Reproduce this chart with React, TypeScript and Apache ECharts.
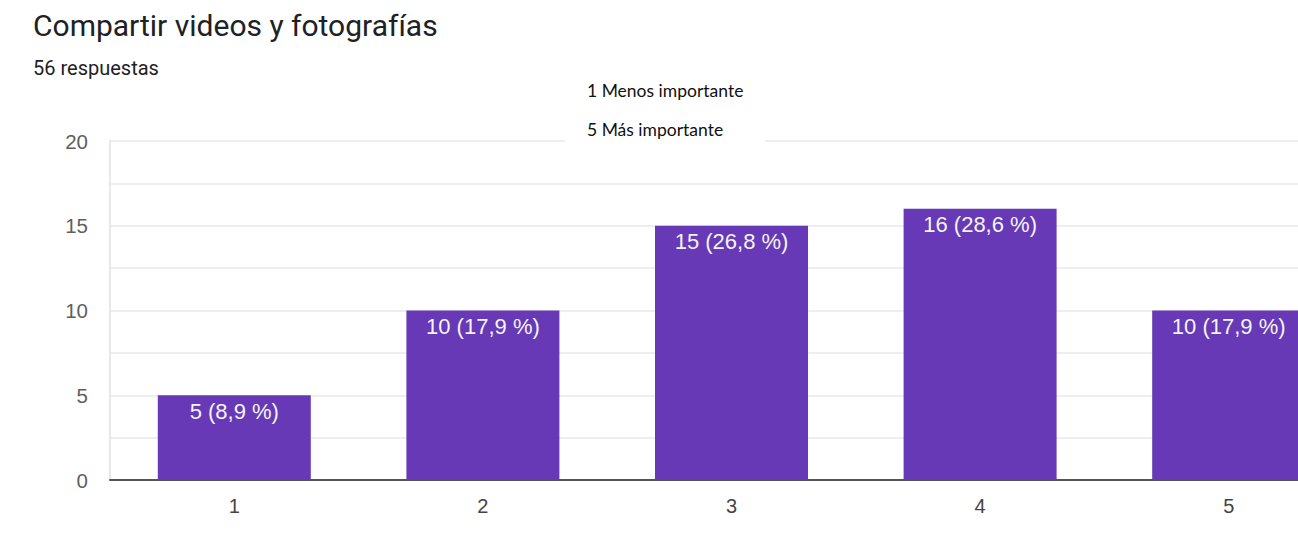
import React, { useEffect, useRef } from "react";
import * as echarts from "echarts";

const categories = ["1", "2", "3", "4", "5"];
const counts = [5, 10, 15, 16, 10];
const percents = ["8,9", "17,9", "26,8", "28,6", "17,9"];
const yTicks = [0, 5, 10, 15, 20];
const title = "Compartir videos y fotografías";
const subtitle = "56 respuestas";
const notes = ["1 Menos importante", "5 Más importante"];

export default function App() {
  const ref = useRef<HTMLDivElement>(null);
  useEffect(() => {
    if (!ref.current) return;
    const chart = echarts.init(ref.current, null, { renderer: "svg" });
    chart.setOption({
      animation: false,
      backgroundColor: "#ffffff",
      grid: { left: 110, right: 0, top: 141, bottom: 59, containLabel: false },
      xAxis: {
        type: "category",
        data: categories,
        axisLine: { show: true, lineStyle: { color: "#555555", width: 2 } },
        axisTick: { show: false },
        axisLabel: { color: "#444444", fontSize: 20, fontFamily: "Liberation Sans, Arial, sans-serif", margin: 16 },
      },
      yAxis: {
        type: "value",
        min: 0,
        max: 20,
        interval: 2.5,
        axisLine: { show: true, lineStyle: { color: "#e8e8e8", width: 2 } },
        axisTick: { show: false },
        splitLine: { show: true, lineStyle: { color: "#eeeeee", width: 2 } },
        axisLabel: {
          color: "#5f5f5f",
          fontSize: 20.5,
          fontFamily: "Liberation Sans, Arial, sans-serif",
          margin: 22,
          formatter: (v: number) => (yTicks.includes(v) ? String(v) : ""),
        },
      },
      series: [
        {
          type: "bar",
          data: counts,
          barWidth: 153,
          itemStyle: { color: "#6739b6" },
          label: {
            show: true,
            position: "insideTop",
            distance: 5,
            color: "#f4f4f4",
            fontSize: 22,
            fontFamily: "Liberation Sans, Arial, sans-serif",
            formatter: (p: any) => `${counts[p.dataIndex]} (${percents[p.dataIndex]} %)`,
          },
        },
      ],
      graphic: [
        {
          type: "text",
          left: 33,
          top: 10,
          style: { text: title, fontSize: 30, fill: "#202124", fontFamily: "Roboto, sans-serif" },
        },
        {
          type: "text",
          left: 33,
          top: 58,
          style: { text: subtitle, fontSize: 20, fill: "#202124", fontFamily: "Roboto, sans-serif" },
        },
        {
          type: "rect",
          shape: { x: 565, y: 116, width: 200, height: 30 },
          style: { fill: "#ffffff" },
          z: 100,
        },
        {
          type: "text",
          left: 587,
          top: 81,
          z: 101,
          style: { text: notes[0], fontSize: 17.5, fill: "#111111", fontFamily: "Lato, sans-serif" },
        },
        {
          type: "text",
          left: 587,
          top: 120,
          z: 101,
          style: { text: notes[1], fontSize: 17.5, fill: "#111111", fontFamily: "Lato, sans-serif" },
        },
      ],
    });
    return () => chart.dispose();
  }, []);
  return (
    <div style={{ position: "fixed", left: 0, top: 0, width: 1298, height: 539, overflow: "hidden", background: "#fff" }}>
      <div ref={ref} style={{ width: 1353, height: 539 }} />
    </div>
  );
}
